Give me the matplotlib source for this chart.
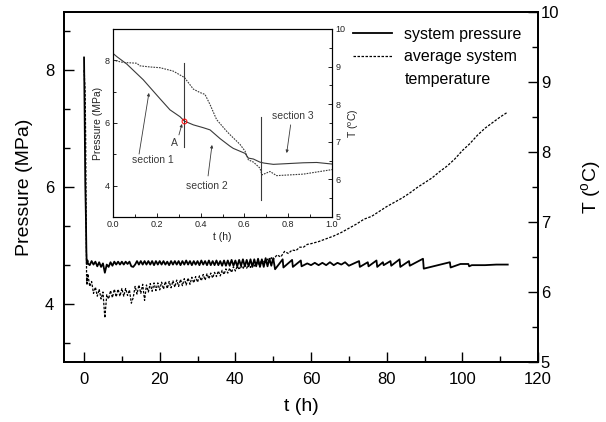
import numpy as np
import matplotlib
matplotlib.use('Agg')
import matplotlib.pyplot as plt
from matplotlib.ticker import MultipleLocator
from matplotlib.lines import Line2D

plt.rcParams['font.family'] = ['Liberation Sans', 'DejaVu Sans']
plt.rcParams['mathtext.fontset'] = 'custom'
plt.rcParams['mathtext.rm'] = 'Liberation Sans'
plt.rcParams['mathtext.it'] = 'Liberation Sans:italic'

# ---- first hour (inset) ----
t_p_first = [0.0, 0.017, 0.063, 0.138, 0.215, 0.26, 0.306, 0.326, 0.367, 0.412, 0.443,
             0.489, 0.534, 0.549, 0.603, 0.618, 0.641, 0.671, 0.69, 0.732, 0.869, 0.93, 1.0]
p_first = [8.22, 8.12, 7.88, 7.38, 6.77, 6.42, 6.20, 6.06, 5.94, 5.85, 5.78,
           5.50, 5.26, 5.19, 5.03, 4.88, 4.85, 4.75, 4.72, 4.68, 4.73, 4.74, 4.69]

t_T_first = [0.0, 0.047, 0.108, 0.123, 0.169, 0.215, 0.275, 0.326, 0.367, 0.397, 0.42,
             0.443, 0.473, 0.519, 0.534, 0.58, 0.603, 0.618, 0.641, 0.671, 0.68, 0.717,
             0.747, 0.869, 1.0]
T_first = [9.17, 9.11, 9.09, 9.02, 8.99, 8.97, 8.88, 8.71, 8.40, 8.31, 8.26,
           7.99, 7.59, 7.28, 7.19, 6.93, 6.75, 6.52, 6.46, 6.30, 6.12, 6.21,
           6.10, 6.14, 6.26]

# ---- long run, 1.5 h .. 50 h every half hour ----
t_half = [1.5, 2.0, 2.5, 3.0, 3.5, 4.0, 4.5, 5.0, 5.5, 6.0, 6.5, 7.0, 7.5, 8.0, 8.5, 9.0,
          9.5, 10.0, 10.5, 11.0, 11.5, 12.0, 12.5, 13.0, 13.5, 14.0, 14.5, 15.0, 15.5,
          16.0, 16.5, 17.0, 17.5, 18.0, 18.5, 19.0, 19.5, 20.0, 20.5, 21.0, 21.5, 22.0,
          22.5, 23.0, 23.5, 24.0, 24.5, 25.0, 25.5, 26.0, 26.5, 27.0, 27.5, 28.0, 28.5,
          29.0, 29.5, 30.0, 30.5, 31.0, 31.5, 32.0, 32.5, 33.0, 33.5, 34.0, 34.5, 35.0,
          35.5, 36.0, 36.5, 37.0, 37.5, 38.0, 38.5, 39.0, 39.5, 40.0, 40.5, 41.0, 41.5,
          42.0, 42.5, 43.0, 43.5, 44.0, 44.5, 45.0, 45.5, 46.0, 46.5, 47.0, 47.5, 48.0,
          48.5, 49.0, 49.5, 50.0]
p_half = [4.66, 4.73, 4.67, 4.72, 4.64, 4.71, 4.63, 4.69, 4.53, 4.67, 4.63, 4.71, 4.65, 4.72,
          4.67, 4.72, 4.67, 4.72, 4.67, 4.72, 4.68, 4.72, 4.64, 4.63, 4.67, 4.73, 4.67, 4.73,
          4.67, 4.73, 4.67, 4.73, 4.67, 4.73, 4.66, 4.73, 4.67, 4.73, 4.67, 4.73, 4.67, 4.72,
          4.66, 4.73, 4.67, 4.73, 4.67, 4.73, 4.66, 4.73, 4.67, 4.74, 4.67, 4.73, 4.66, 4.73,
          4.67, 4.73, 4.66, 4.74, 4.67, 4.73, 4.66, 4.74, 4.66, 4.73, 4.66, 4.74, 4.66, 4.73,
          4.65, 4.74, 4.65, 4.74, 4.65, 4.75, 4.65, 4.74, 4.64, 4.75, 4.65, 4.76, 4.64, 4.75,
          4.64, 4.76, 4.63, 4.76, 4.64, 4.77, 4.63, 4.76, 4.63, 4.78, 4.64, 4.77, 4.65, 4.78]
T_half = [6.08, 6.15, 5.98, 6.07, 5.94, 6.04, 5.90, 6.00, 5.63, 5.96, 5.90, 6.02, 5.92, 6.04,
          5.93, 6.04, 5.94, 6.05, 5.94, 6.05, 5.95, 6.03, 5.84, 5.92, 6.08, 5.97, 6.10, 5.98,
          6.11, 5.88, 6.10, 6.00, 6.12, 6.01, 6.13, 6.02, 6.13, 6.03, 6.14, 6.04, 6.15, 6.05,
          6.15, 6.06, 6.16, 6.07, 6.17, 6.08, 6.18, 6.09, 6.19, 6.10, 6.20, 6.11, 6.21, 6.13,
          6.22, 6.14, 6.23, 6.16, 6.25, 6.17, 6.26, 6.19, 6.27, 6.20, 6.28, 6.22, 6.30, 6.23,
          6.31, 6.25, 6.33, 6.27, 6.34, 6.28, 6.36, 6.30, 6.37, 6.32, 6.38, 6.33, 6.39, 6.34,
          6.40, 6.35, 6.41, 6.37, 6.42, 6.39, 6.44, 6.40, 6.45, 6.42, 6.47, 6.43, 6.49, 6.46]

# ---- pressure sawtooth after 50 h ----
t_p_late = [50.5, 52.5, 52.7, 55.0, 55.2, 57.3, 57.5, 59.0, 60.0, 61.0, 62.0, 63.0, 64.0,
            65.0, 66.0, 67.0, 68.0, 69.0, 70.0, 72.7, 72.9, 75.0, 75.2, 77.3, 77.5, 79.0,
            79.2, 81.0, 81.2, 83.4, 83.6, 85.9, 86.1, 89.6, 89.8, 96.7, 96.9, 99.5, 101.6,
            101.8, 102.5, 106.0, 109.0, 112.0]
p_late = [4.59, 4.76, 4.62, 4.75, 4.63, 4.74, 4.64, 4.69, 4.66, 4.70, 4.66, 4.70, 4.66,
          4.71, 4.66, 4.70, 4.67, 4.71, 4.65, 4.73, 4.63, 4.71, 4.64, 4.74, 4.63, 4.71,
          4.66, 4.73, 4.65, 4.76, 4.63, 4.73, 4.65, 4.77, 4.60, 4.71, 4.62, 4.68, 4.68,
          4.64, 4.66, 4.66, 4.67, 4.67]

# ---- temperature after 50 h ----
t_T_late = [51, 52, 53, 54, 55, 56, 57, 58, 59, 60, 62, 64, 66, 68, 70, 72, 74, 76, 78, 80,
            82, 84, 86, 88, 90, 92, 94, 96, 98, 100, 102, 104, 106, 108, 110, 112]
T_late = [6.53, 6.50, 6.58, 6.55, 6.60, 6.59, 6.64, 6.64, 6.68, 6.69, 6.72, 6.76, 6.80, 6.85,
          6.91, 6.97, 7.04, 7.08, 7.15, 7.22, 7.28, 7.34, 7.41, 7.49, 7.56, 7.63, 7.72, 7.80,
          7.90, 8.02, 8.12, 8.24, 8.34, 8.42, 8.50, 8.57]

# inset markers / annotations
section_lines = [0.326, 0.676]
section_line_y = [(5.24, 7.92), (3.54, 6.19)]
point_A = (0.326, 6.06)

t_p = t_p_first + t_half + t_p_late
p_all = p_first + p_half + p_late
t_T = t_T_first + t_half + t_T_late
T_all = T_first + T_half + T_late

fig = plt.figure(figsize=(6.06, 4.22), dpi=100)
ax = fig.add_axes([0.1056, 0.1422, 0.7822, 0.8294])
ax2 = ax.twinx()

ax.plot(t_p, p_all, color='black', lw=1.3)
ax2.plot(t_T, T_all, color='black', lw=0.9, linestyle=(0, (2.0, 1.2)))

ax.set_xlim(-5.3, 120)
ax.set_ylim(3, 9)
ax2.set_ylim(5, 10)

ax.xaxis.set_major_locator(MultipleLocator(20))
ax.xaxis.set_minor_locator(MultipleLocator(10))
ax.yaxis.set_major_locator(MultipleLocator(2))
ax.yaxis.set_minor_locator(MultipleLocator(2 / 3))
ax2.yaxis.set_major_locator(MultipleLocator(1))
ax2.yaxis.set_minor_locator(MultipleLocator(0.5))

ax.tick_params(which='major', direction='in', length=7, width=1.0, labelsize=12, pad=7)
ax.tick_params(which='minor', direction='in', length=4, width=1.0)
ax.tick_params(axis='y', right=False)
ax2.tick_params(which='major', direction='in', length=7, width=1.0, labelsize=12, pad=2)
ax2.tick_params(which='minor', direction='in', length=4, width=1.0)
for a in (ax, ax2):
    for s in a.spines.values():
        s.set_linewidth(1.3)

ax.set_xlabel('t (h)', fontsize=14, labelpad=8)
ax.set_ylabel('Pressure (MPa)', fontsize=14, labelpad=9)
ax2.set_ylabel(r'T ($^{\rm o}$C)', fontsize=14, labelpad=14)

handles = [Line2D([], [], color='black', lw=1.3),
           Line2D([], [], color='black', lw=0.9, linestyle=(0, (2.0, 1.2))),
           Line2D([], [], color='none')]
ax.legend(handles, ['system pressure', 'average system', 'temperature'],
          loc='upper left', bbox_to_anchor=(0.61, 0.958), frameon=False, fontsize=11.5,
          borderpad=0, borderaxespad=0, handlelength=2.45, handletextpad=0.75,
          labelspacing=0.47)

# ---- inset ----
gray = '#3a3a3a'
axin = fig.add_axes([0.1865, 0.4858, 0.3614, 0.4455])
axin.set_facecolor('white')
axin2 = axin.twinx()

axin.plot(t_p_first, p_first, color=gray, lw=0.8)
axin2.plot(t_T_first, T_first, color=gray, lw=0.8, linestyle=(0, (1.5, 1.0)))
for xv, (y0, y1) in zip(section_lines, section_line_y):
    axin.plot([xv, xv], [y0, y1], color=gray, lw=0.8)
axin.plot([point_A[0]], [point_A[1]], 'o', ms=3.5, mfc='none', mec='red', mew=0.7)

arrow = dict(arrowstyle='-|>', lw=0.6, color=gray, mutation_scale=4, shrinkA=0, shrinkB=0)
axin.annotate('', xy=(0.315, 5.97), xytext=(0.301, 5.62), arrowprops=arrow)
axin.text(0.279, 5.36, 'A', fontsize=7.5, color=gray, ha='center', va='center')
axin.annotate('', xy=(0.164, 6.96), xytext=(0.119, 5.01), arrowprops=arrow)
axin.text(0.18, 4.82, 'section 1', fontsize=7.5, color=gray, ha='center', va='center')
axin.annotate('', xy=(0.452, 5.30), xytext=(0.434, 4.31), arrowprops=arrow)
axin.text(0.429, 3.99, 'section 2', fontsize=7.5, color=gray, ha='center', va='center')
axin.annotate('', xy=(0.793, 5.04), xytext=(0.811, 5.94), arrowprops=arrow)
axin.text(0.822, 6.23, 'section 3', fontsize=7.5, color=gray, ha='center', va='center')

axin.set_xlim(0, 1)
axin.set_ylim(3, 9)
axin2.set_ylim(5, 10)
axin.xaxis.set_major_locator(MultipleLocator(0.2))
axin.xaxis.set_minor_locator(MultipleLocator(0.1))
axin.yaxis.set_major_locator(MultipleLocator(2))
axin.yaxis.set_minor_locator(MultipleLocator(1))
axin2.yaxis.set_major_locator(MultipleLocator(1))
axin2.yaxis.set_minor_locator(MultipleLocator(0.5))
axin.xaxis.set_major_formatter(matplotlib.ticker.FormatStrFormatter('%.1f'))

for a in (axin, axin2):
    a.tick_params(which='major', direction='in', length=3, width=0.7, labelsize=6.5,
                  pad=2.5, colors='#222222')
    a.tick_params(which='minor', direction='in', length=2, width=0.6)
    for s in a.spines.values():
        s.set_linewidth(0.8)
axin.tick_params(axis='y', right=False)

axin.set_xlabel('t (h)', fontsize=7.5, labelpad=2, color='#222222')
axin.set_ylabel('Pressure (MPa)', fontsize=7.5, labelpad=1, color='#222222')
axin2.set_ylabel(r'T ($^{\rm o}$C)', fontsize=7.5, labelpad=1, color='#222222')

fig.savefig('out.png', dpi=100)
